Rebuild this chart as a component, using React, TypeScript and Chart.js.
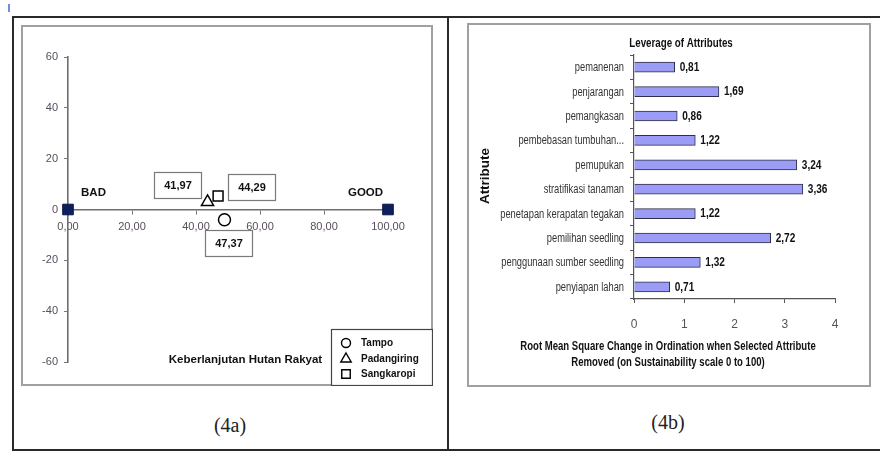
import React, { useEffect, useRef } from "react";
import { Chart, registerables } from "chart.js";

Chart.register(...registerables);

// ---------- Panel (4a) data ----------
const villageNames = ["Tampo", "Padangiring", "Sangkaropi"];
const villageX = [48.9, 43.6, 46.9];
const villageY = [-4.0, 3.0, 5.3];
const villageScoreLabels = ["47,37", "41,97", "44,29"];
const anchorNames = ["BAD", "GOOD"];
const anchorX = [0, 100];
const anchorY = [0, 0];
const xRangeA = [0, 100];
const yRangeA = [-60, 60];
const tickStepA = 20;
const axisCaptionA = "Keberlanjutan Hutan Rakyat";

// ---------- Panel (4b) data ----------
const attributes = [
  "pemanenan",
  "penjarangan",
  "pemangkasan",
  "pembebasan tumbuhan...",
  "pemupukan",
  "stratifikasi tanaman",
  "penetapan kerapatan tegakan",
  "pemilihan seedling",
  "penggunaan sumber seedling",
  "penyiapan lahan",
];
const leverage = [0.81, 1.69, 0.86, 1.22, 3.24, 3.36, 1.22, 2.72, 1.32, 0.71];
const xRangeB = [0, 4];
const titleB = "Leverage of Attributes";
const yTitleB = "Attribute";
const xTitleB = [
  "Root Mean Square Change in Ordination when Selected Attribute",
  "Removed (on Sustainability scale 0 to 100)",
];
const captions = ["(4a)", "(4b)"];

// ---------- styles ----------
const SANS = '"Liberation Sans", Arial, sans-serif';
const SERIF = '"Liberation Serif", "Times New Roman", serif';
const markerStyles = ["circle", "triangle", "rect"];
const markerRadii = [6, 7, 7];
const scoreBoxOffsets = [
  [4.5, 23],
  [-30, -17],
  [33.5, -9],
];
const anchorTextOffsets = [
  [25.5, -17],
  [-22.5, -17],
];
const fmtComma = (v: number, d: number) => v.toFixed(d).replace(".", ",");

function narrowText(
  ctx: CanvasRenderingContext2D,
  text: string,
  x: number,
  y: number,
  sx: number
) {
  ctx.save();
  ctx.translate(x, y);
  ctx.scale(sx, 1);
  ctx.fillText(text, 0, 0);
  ctx.restore();
}

function drawMarker(ctx: CanvasRenderingContext2D, style: string, x: number, y: number, r: number) {
  ctx.beginPath();
  if (style === "circle") {
    ctx.arc(x, y, r, 0, Math.PI * 2);
  } else if (style === "triangle") {
    ctx.moveTo(x, y - r);
    ctx.lineTo(x + r * 0.866, y + r * 0.5);
    ctx.lineTo(x - r * 0.866, y + r * 0.5);
    ctx.closePath();
  } else {
    const s = r * 0.707;
    ctx.rect(x - s, y - s, 2 * s, 2 * s);
  }
  ctx.fillStyle = "#fff";
  ctx.fill();
  ctx.stroke();
}

const panelAPlugin = {
  id: "panelA",
  afterDatasetsDraw(chart: any) {
    const ctx: CanvasRenderingContext2D = chart.ctx;
    const ca = chart.chartArea;
    ctx.save();
    // score boxes
    villageNames.forEach((_, i) => {
      const el = chart.getDatasetMeta(i).data[0];
      const [dx, dy] = scoreBoxOffsets[i];
      const cx = el.x + dx;
      const cy = el.y + dy;
      const w = 47;
      const h = 26;
      const bx = Math.round(cx - w / 2) + 0.5;
      const by = Math.round(cy - h / 2) + 0.5;
      ctx.fillStyle = "#fff";
      ctx.fillRect(bx, by, w, h);
      ctx.strokeStyle = "#7a7a7a";
      ctx.lineWidth = 1.2;
      ctx.strokeRect(bx, by, w, h);
      ctx.fillStyle = "#111";
      ctx.font = `bold 11px ${SANS}`;
      ctx.textAlign = "center";
      ctx.textBaseline = "middle";
      ctx.fillText(villageScoreLabels[i], bx + w / 2, by + h / 2 + 0.5);
    });
    // BAD / GOOD
    const am = chart.getDatasetMeta(3);
    ctx.font = `bold 11.5px ${SANS}`;
    ctx.fillStyle = "#111";
    anchorNames.forEach((n, i) => {
      const el = am.data[i];
      ctx.fillText(n, el.x + anchorTextOffsets[i][0], el.y + anchorTextOffsets[i][1]);
    });
    // caption
    ctx.font = `bold 11.5px ${SANS}`;
    ctx.fillText(axisCaptionA, ca.left + 177.5, ca.bottom - 2);
    // legend box
    const lx = chart.width - 102;
    const ly = chart.height - 57;
    ctx.fillStyle = "#fff";
    ctx.fillRect(lx, ly, 102, 57);
    ctx.strokeStyle = "#444";
    ctx.lineWidth = 1.2;
    ctx.strokeRect(lx + 0.5, ly + 0.5, 101, 56);
    ctx.lineWidth = 1.4;
    ctx.strokeStyle = "#000";
    const rowY = [14, 30, 45];
    const legR = [4.5, 6, 6];
    villageNames.forEach((n, i) => {
      drawMarker(ctx, markerStyles[i], lx + 15, ly + rowY[i], legR[i]);
      ctx.fillStyle = "#111";
      ctx.font = `bold 10px ${SANS}`;
      ctx.textAlign = "left";
      ctx.textBaseline = "middle";
      ctx.fillText(n, lx + 30, ly + rowY[i]);
    });
    ctx.restore();
  },
};

const panelBPlugin = {
  id: "panelB",
  afterDatasetsDraw(chart: any) {
    const ctx: CanvasRenderingContext2D = chart.ctx;
    const ys = chart.scales.y;
    ctx.save();
    ctx.textBaseline = "middle";
    // category labels (condensed look)
    ctx.fillStyle = "#333";
    ctx.font = `12.5px ${SANS}`;
    ctx.textAlign = "right";
    attributes.forEach((lab, i) => {
      narrowText(ctx, lab, ys.right - 10, ys.getPixelForTick(i) + 0.5, 0.745);
    });
    // value labels
    const meta = chart.getDatasetMeta(0);
    ctx.fillStyle = "#111";
    ctx.font = `bold 12px ${SANS}`;
    ctx.textAlign = "left";
    meta.data.forEach((bar: any, i: number) => {
      narrowText(ctx, fmtComma(leverage[i], 2), bar.x + 5, bar.y + 0.5, 0.84);
    });
    // titles
    ctx.textAlign = "center";
    ctx.font = `bold 13px ${SANS}`;
    narrowText(ctx, titleB, 214, 20, 0.75);
    ctx.font = `bold 12.5px ${SANS}`;
    narrowText(ctx, xTitleB[0], 201, 324, 0.765);
    narrowText(ctx, xTitleB[1], 201, 340, 0.765);
    ctx.translate(18, 153);
    ctx.rotate(-Math.PI / 2);
    ctx.font = `bold 13.5px ${SANS}`;
    ctx.fillText(yTitleB, 0, 0);
    ctx.restore();
  },
};

export default function App() {
  const refA = useRef<HTMLCanvasElement>(null);
  const refB = useRef<HTMLCanvasElement>(null);

  useEffect(() => {
    const datasetsA: any[] = villageNames.map((name, i) => ({
      label: name,
      data: [{ x: villageX[i], y: villageY[i] }],
      pointStyle: markerStyles[i],
      pointRadius: markerRadii[i],
      backgroundColor: "#ffffff",
      borderColor: "#000000",
      borderWidth: 1.5,
      clip: false,
    }));
    datasetsA.push({
      label: "anchors",
      data: anchorX.map((x, i) => ({ x, y: anchorY[i] })),
      pointStyle: "rect",
      pointRadius: 7.5,
      backgroundColor: "#0d1f5e",
      borderColor: "#0a174a",
      borderWidth: 1,
      clip: false,
    });

    const a = new Chart(refA.current!, {
      type: "scatter",
      data: { datasets: datasetsA },
      options: {
        animation: false,
        responsive: true,
        maintainAspectRatio: false,
        layout: { padding: { left: 0, top: 32, right: 45, bottom: 24 } },
        plugins: { legend: { display: false }, tooltip: { enabled: false } },
        scales: {
          x: {
            type: "linear",
            min: xRangeA[0],
            max: xRangeA[1],
            position: { y: 0 } as any,
            ticks: {
              stepSize: tickStepA,
              padding: 7,
              color: "#574d5c",
              font: { family: SANS, size: 11 },
              callback: (v: any) => fmtComma(Number(v), 2),
              maxRotation: 0,
            },
            grid: { drawOnChartArea: false, tickLength: 4, color: "#777" },
            border: { color: "#6e6e6e", width: 1.6 },
          },
          y: {
            type: "linear",
            min: yRangeA[0],
            max: yRangeA[1],
            position: "left",
            ticks: {
              stepSize: tickStepA,
              padding: 6,
              color: "#574d5c",
              font: { family: SANS, size: 11 },
              callback: (v: any) => String(v),
            },
            grid: { drawOnChartArea: false, tickLength: 4, color: "#777" },
            border: { color: "#6e6e6e", width: 1.6 },
            afterFit: (s: any) => {
              s.width = 47;
            },
          },
        },
      },
      plugins: [panelAPlugin],
    } as any);

    const b = new Chart(refB.current!, {
      type: "bar",
      data: {
        labels: attributes,
        datasets: [
          {
            label: "Leverage",
            data: leverage,
            backgroundColor: "#9a9cf6",
            borderColor: "#2f2f4a",
            borderWidth: 1,
            barThickness: 10,
          },
        ],
      },
      options: {
        indexAxis: "y",
        animation: false,
        responsive: true,
        maintainAspectRatio: false,
        layout: { padding: { left: 0, top: 32, right: 36, bottom: 0 } },
        plugins: { legend: { display: false }, tooltip: { enabled: false } },
        scales: {
          x: {
            type: "linear",
            min: xRangeB[0],
            max: xRangeB[1],
            ticks: {
              stepSize: 1,
              padding: 14,
              color: "#555",
              font: { family: SANS, size: 12 },
            },
            grid: { drawOnChartArea: false, tickLength: 4, color: "#555" },
            border: { color: "#555", width: 1.2 },
            afterFit: (s: any) => {
              s.height = 88;
            },
          },
          y: {
            ticks: { display: false, autoSkip: false },
            grid: { drawOnChartArea: false, tickLength: 4, color: "#555", offset: true },
            border: { color: "#555", width: 1.2 },
            afterFit: (s: any) => {
              s.width = 167;
            },
          },
        },
      },
      plugins: [panelBPlugin],
    } as any);

    return () => {
      a.destroy();
      b.destroy();
    };
  }, []);

  const abs = (s: React.CSSProperties): React.CSSProperties => ({ position: "absolute", ...s });

  return (
    <div style={{ position: "fixed", left: 0, top: 0, width: 880, height: 456, background: "#fff", overflow: "hidden" }}>
      <div style={abs({ left: 8, top: 4, width: 2, height: 8, background: "#6f8fd8" })} />
      <div style={abs({ left: 12, top: 16, width: 868, height: 2, background: "#2a2a2a" })} />
      <div style={abs({ left: 12, top: 449, width: 868, height: 2, background: "#2a2a2a" })} />
      <div style={abs({ left: 12, top: 16, width: 2, height: 435, background: "#2a2a2a" })} />
      <div style={abs({ left: 447, top: 16, width: 2, height: 435, background: "#2a2a2a" })} />

      <div style={abs({ left: 21, top: 25, width: 412, height: 361, boxSizing: "border-box", border: "2px solid #a0a0a0" })} />
      <div style={abs({ left: 21, top: 25, width: 412, height: 361 })}>
        <canvas ref={refA} />
      </div>

      <div style={abs({ left: 467, top: 23, width: 404, height: 364, boxSizing: "border-box", border: "2px solid #a0a0a0" })} />
      <div style={abs({ left: 467, top: 23, width: 404, height: 364 })}>
        <canvas ref={refB} />
      </div>

      <div style={abs({ left: 180, top: 413, width: 100, height: 24, textAlign: "center", font: `20px ${SERIF}`, color: "#222", lineHeight: "24px" })}>
        {captions[0]}
      </div>
      <div style={abs({ left: 618, top: 410, width: 100, height: 24, textAlign: "center", font: `20px ${SERIF}`, color: "#222", lineHeight: "24px" })}>
        {captions[1]}
      </div>
    </div>
  );
}
